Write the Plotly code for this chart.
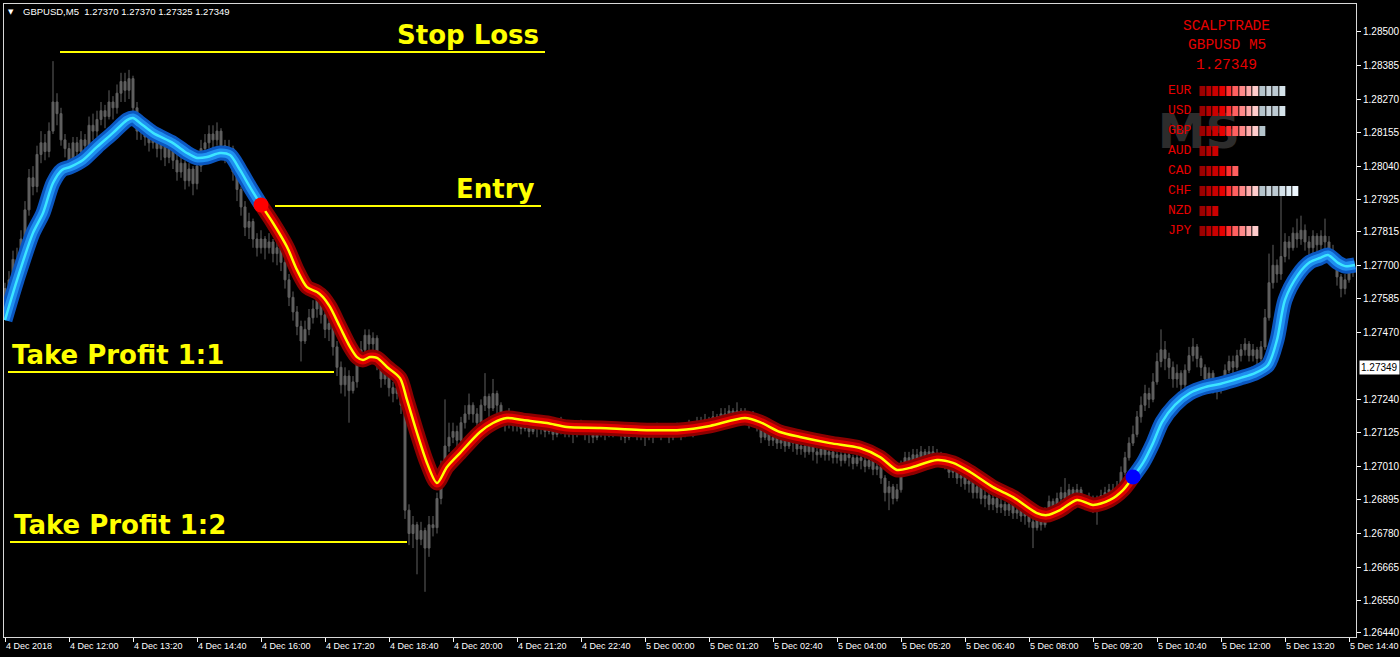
import plotly.graph_objects as go

# ---- candles (GBPUSD M5, 4 Dec 10:40 -> 5 Dec 14:45) ----
first_open = 1.2755
closes = [
    1.2762, 1.2765, 1.2772, 1.2770, 1.2779, 1.2789, 1.2800, 1.2797, 1.2808, 1.2812, 1.2809, 1.2816,
    1.2826, 1.2822, 1.2813, 1.2810, 1.2806, 1.2812, 1.2809, 1.2813, 1.2811, 1.2818, 1.2816, 1.2820,
    1.2823, 1.2821, 1.2826, 1.2824, 1.2829, 1.2833, 1.2830, 1.2834, 1.2824, 1.2816, 1.2818, 1.2814,
    1.2812, 1.2815, 1.2810, 1.2812, 1.2807, 1.2810, 1.2806, 1.2802, 1.2805, 1.2799, 1.2803, 1.2798,
    1.2804, 1.2810, 1.2812, 1.2815, 1.2813, 1.2816, 1.2811, 1.2808, 1.2810, 1.2802, 1.2796, 1.2790,
    1.2783, 1.2785, 1.2779, 1.2776, 1.2779, 1.2776, 1.2778, 1.2774, 1.2776, 1.2771, 1.2765, 1.2759,
    1.2754, 1.2749, 1.2744, 1.2748, 1.2752, 1.2755, 1.2758, 1.2753, 1.2748, 1.2750, 1.2742, 1.2735,
    1.2729, 1.2732, 1.2727, 1.2730, 1.2738, 1.2741, 1.2746, 1.2743, 1.2745, 1.2737, 1.2731, 1.2734,
    1.2728, 1.2726, 1.2728, 1.2722, 1.2686, 1.2678, 1.2681, 1.2676, 1.2679, 1.2673, 1.2681, 1.2680,
    1.2690, 1.2700, 1.2708, 1.2711, 1.2713, 1.2710, 1.2716, 1.2719, 1.2722, 1.2719, 1.2716, 1.2722,
    1.2725, 1.2721, 1.2726, 1.2722, 1.2718, 1.2716, 1.2718, 1.2715, 1.2716, 1.2714, 1.2716, 1.2713,
    1.2715, 1.2714, 1.2716, 1.2713, 1.2715, 1.2712, 1.2714, 1.2716, 1.2713, 1.2714, 1.2712, 1.2714,
    1.2715, 1.2712, 1.2713, 1.2711, 1.2713, 1.2714, 1.2712, 1.2714, 1.2713, 1.2715, 1.2713, 1.2711,
    1.2713, 1.2714, 1.2712, 1.2713, 1.2711, 1.2713, 1.2712, 1.2714, 1.2712, 1.2713, 1.2711, 1.2713,
    1.2714, 1.2712, 1.2714, 1.2715, 1.2713, 1.2716, 1.2715, 1.2717, 1.2716, 1.2718, 1.2717, 1.2719,
    1.2718, 1.2720, 1.2719, 1.2720, 1.2718, 1.2719, 1.2717, 1.2718, 1.2715, 1.2711, 1.2713, 1.2710,
    1.2711, 1.2709, 1.2710, 1.2708, 1.2710, 1.2709, 1.2707, 1.2708, 1.2706, 1.2708, 1.2706, 1.2705,
    1.2707, 1.2705, 1.2706, 1.2704, 1.2705, 1.2703, 1.2705, 1.2704, 1.2702, 1.2704, 1.2703, 1.2701,
    1.2703, 1.2700, 1.2701, 1.2697, 1.2692, 1.2694, 1.2690, 1.2693, 1.2701, 1.2704, 1.2702, 1.2705,
    1.2703, 1.2706, 1.2704, 1.2706, 1.2705, 1.2703, 1.2704, 1.2702, 1.2699, 1.2700, 1.2697, 1.2698,
    1.2695, 1.2696, 1.2692, 1.2694, 1.2690, 1.2691, 1.2688, 1.2690, 1.2687, 1.2688, 1.2686, 1.2688,
    1.2685, 1.2686, 1.2684, 1.2685, 1.2682, 1.2680, 1.2683, 1.2681, 1.2685, 1.2689, 1.2687, 1.2690,
    1.2692, 1.2690, 1.2693, 1.2691, 1.2693, 1.2690, 1.2688, 1.2690, 1.2687, 1.2689, 1.2691, 1.2692,
    1.2693, 1.2692, 1.2694, 1.2699, 1.2704, 1.2709, 1.2712, 1.2718, 1.2722, 1.2726, 1.2724, 1.2730,
    1.2737, 1.2741, 1.2738, 1.2735, 1.2731, 1.2733, 1.2729, 1.2734, 1.2739, 1.2742, 1.2738, 1.2735,
    1.2731, 1.2733, 1.2729, 1.2727, 1.2730, 1.2734, 1.2737, 1.2735, 1.2739, 1.2741, 1.2743, 1.2739,
    1.2741, 1.2738, 1.2742, 1.2752, 1.2764, 1.2770, 1.2767, 1.2773, 1.2778, 1.2776, 1.2781, 1.2779,
    1.2782, 1.2778, 1.2776, 1.2780, 1.2777, 1.2780, 1.2778, 1.2775, 1.2773, 1.2766, 1.2762, 1.2765,
    1.2768, 1.2769,
]
highs = [
    1.2764, 1.2768, 1.2775, 1.2776, 1.2782, 1.2792, 1.2803, 1.2804, 1.2811, 1.2816, 1.2815, 1.2819,
    1.2840, 1.2829, 1.2824, 1.2815, 1.2812, 1.2814, 1.2814, 1.2816, 1.2815, 1.2821, 1.2822, 1.2823,
    1.2826, 1.2825, 1.2830, 1.2828, 1.2832, 1.2836, 1.2836, 1.2837, 1.2835, 1.2826, 1.2821, 1.2820,
    1.2817, 1.2818, 1.2816, 1.2815, 1.2813, 1.2812, 1.2811, 1.2808, 1.2807, 1.2806, 1.2805, 1.2804,
    1.2807, 1.2813, 1.2815, 1.2818, 1.2818, 1.2819, 1.2817, 1.2813, 1.2813, 1.2811, 1.2803, 1.2797,
    1.2792, 1.2788, 1.2786, 1.2781, 1.2782, 1.2780, 1.2781, 1.2779, 1.2779, 1.2777, 1.2772, 1.2767,
    1.2761, 1.2756, 1.2751, 1.2751, 1.2755, 1.2758, 1.2761, 1.2760, 1.2755, 1.2753, 1.2751, 1.2744,
    1.2737, 1.2735, 1.2734, 1.2732, 1.2740, 1.2744, 1.2748, 1.2748, 1.2747, 1.2746, 1.2738, 1.2736,
    1.2735, 1.2730, 1.2731, 1.2729, 1.2723, 1.2688, 1.2684, 1.2682, 1.2682, 1.2680, 1.2684, 1.2684,
    1.2692, 1.2703, 1.2724, 1.2716, 1.2716, 1.2715, 1.2718, 1.2722, 1.2726, 1.2723, 1.2721, 1.2724,
    1.2733, 1.2726, 1.2731, 1.2727, 1.2723, 1.2720, 1.2721, 1.2719, 1.2718, 1.2717, 1.2718, 1.2717,
    1.2717, 1.2716, 1.2718, 1.2717, 1.2716, 1.2716, 1.2716, 1.2718, 1.2717, 1.2716, 1.2715, 1.2716,
    1.2717, 1.2716, 1.2715, 1.2714, 1.2715, 1.2716, 1.2715, 1.2716, 1.2715, 1.2716, 1.2716, 1.2714,
    1.2715, 1.2716, 1.2715, 1.2715, 1.2714, 1.2715, 1.2714, 1.2716, 1.2715, 1.2715, 1.2714, 1.2715,
    1.2716, 1.2715, 1.2716, 1.2717, 1.2716, 1.2718, 1.2718, 1.2719, 1.2718, 1.2720, 1.2719, 1.2721,
    1.2721, 1.2722, 1.2721, 1.2723, 1.2721, 1.2721, 1.2720, 1.2720, 1.2719, 1.2716, 1.2715, 1.2714,
    1.2713, 1.2712, 1.2712, 1.2711, 1.2712, 1.2711, 1.2710, 1.2710, 1.2709, 1.2710, 1.2709, 1.2708,
    1.2709, 1.2708, 1.2708, 1.2707, 1.2707, 1.2706, 1.2707, 1.2706, 1.2705, 1.2706, 1.2705, 1.2705,
    1.2705, 1.2704, 1.2703, 1.2702, 1.2698, 1.2696, 1.2695, 1.2695, 1.2703, 1.2706, 1.2706, 1.2707,
    1.2707, 1.2708, 1.2707, 1.2708, 1.2708, 1.2707, 1.2706, 1.2705, 1.2703, 1.2702, 1.2701, 1.2700,
    1.2699, 1.2698, 1.2697, 1.2696, 1.2695, 1.2693, 1.2692, 1.2692, 1.2691, 1.2690, 1.2689, 1.2690,
    1.2689, 1.2688, 1.2687, 1.2687, 1.2686, 1.2684, 1.2685, 1.2685, 1.2687, 1.2691, 1.2690, 1.2692,
    1.2694, 1.2697, 1.2695, 1.2694, 1.2695, 1.2694, 1.2691, 1.2692, 1.2691, 1.2691, 1.2693, 1.2694,
    1.2695, 1.2695, 1.2696, 1.2701, 1.2706, 1.2711, 1.2715, 1.2720, 1.2725, 1.2729, 1.2728, 1.2733,
    1.2740, 1.2748, 1.2744, 1.2740, 1.2737, 1.2736, 1.2734, 1.2736, 1.2742, 1.2745, 1.2743, 1.2739,
    1.2736, 1.2735, 1.2734, 1.2731, 1.2732, 1.2736, 1.2739, 1.2739, 1.2741, 1.2743, 1.2745, 1.2744,
    1.2743, 1.2742, 1.2744, 1.2755, 1.2774, 1.2777, 1.2772, 1.2797, 1.2781, 1.2780, 1.2783, 1.2786,
    1.2787, 1.2784, 1.2780, 1.2782, 1.2781, 1.2782, 1.2786, 1.2780, 1.2777, 1.2773, 1.2767, 1.2767,
    1.2770, 1.2771,
]
lows = [
    1.2752, 1.2760, 1.2763, 1.2766, 1.2769, 1.2777, 1.2787, 1.2794, 1.2795, 1.2805, 1.2806, 1.2807,
    1.2815, 1.2818, 1.2811, 1.2807, 1.2804, 1.2805, 1.2806, 1.2808, 1.2808, 1.2810, 1.2813, 1.2814,
    1.2818, 1.2817, 1.2820, 1.2820, 1.2822, 1.2826, 1.2826, 1.2827, 1.2822, 1.2813, 1.2813, 1.2811,
    1.2809, 1.2810, 1.2807, 1.2806, 1.2804, 1.2805, 1.2803, 1.2799, 1.2800, 1.2796, 1.2797, 1.2794,
    1.2796, 1.2802, 1.2808, 1.2810, 1.2810, 1.2811, 1.2808, 1.2805, 1.2805, 1.2799, 1.2792, 1.2787,
    1.2780, 1.2779, 1.2776, 1.2773, 1.2774, 1.2772, 1.2774, 1.2771, 1.2770, 1.2768, 1.2762, 1.2756,
    1.2751, 1.2746, 1.2737, 1.2743, 1.2746, 1.2750, 1.2752, 1.2750, 1.2745, 1.2744, 1.2739, 1.2732,
    1.2726, 1.2725, 1.2716, 1.2726, 1.2728, 1.2736, 1.2739, 1.2740, 1.2740, 1.2734, 1.2728, 1.2729,
    1.2725, 1.2723, 1.2724, 1.2719, 1.2683, 1.2674, 1.2673, 1.2664, 1.2674, 1.2658, 1.2670, 1.2677,
    1.2678, 1.2688, 1.2698, 1.2706, 1.2709, 1.2707, 1.2709, 1.2714, 1.2717, 1.2716, 1.2714, 1.2715,
    1.2720, 1.2718, 1.2720, 1.2719, 1.2715, 1.2713, 1.2714, 1.2713, 1.2713, 1.2712, 1.2713, 1.2711,
    1.2712, 1.2711, 1.2712, 1.2711, 1.2712, 1.2710, 1.2711, 1.2712, 1.2711, 1.2711, 1.2709, 1.2711,
    1.2712, 1.2710, 1.2709, 1.2709, 1.2710, 1.2711, 1.2710, 1.2711, 1.2711, 1.2712, 1.2710, 1.2709,
    1.2710, 1.2711, 1.2710, 1.2710, 1.2708, 1.2710, 1.2709, 1.2711, 1.2710, 1.2711, 1.2709, 1.2710,
    1.2712, 1.2710, 1.2711, 1.2712, 1.2711, 1.2712, 1.2713, 1.2714, 1.2713, 1.2715, 1.2714, 1.2716,
    1.2715, 1.2717, 1.2716, 1.2717, 1.2716, 1.2716, 1.2714, 1.2715, 1.2713, 1.2709, 1.2710, 1.2708,
    1.2708, 1.2707, 1.2707, 1.2706, 1.2707, 1.2706, 1.2705, 1.2705, 1.2704, 1.2705, 1.2703, 1.2702,
    1.2704, 1.2703, 1.2703, 1.2702, 1.2702, 1.2701, 1.2702, 1.2701, 1.2700, 1.2701, 1.2700, 1.2699,
    1.2700, 1.2698, 1.2698, 1.2695, 1.2689, 1.2686, 1.2688, 1.2689, 1.2692, 1.2699, 1.2700, 1.2701,
    1.2701, 1.2702, 1.2702, 1.2703, 1.2702, 1.2701, 1.2701, 1.2700, 1.2697, 1.2697, 1.2695, 1.2694,
    1.2693, 1.2692, 1.2690, 1.2690, 1.2688, 1.2687, 1.2686, 1.2686, 1.2685, 1.2685, 1.2684, 1.2684,
    1.2683, 1.2683, 1.2682, 1.2681, 1.2680, 1.2673, 1.2679, 1.2679, 1.2680, 1.2684, 1.2685, 1.2686,
    1.2688, 1.2688, 1.2689, 1.2688, 1.2689, 1.2688, 1.2686, 1.2686, 1.2685, 1.2681, 1.2687, 1.2689,
    1.2690, 1.2690, 1.2691, 1.2693, 1.2698, 1.2703, 1.2708, 1.2711, 1.2716, 1.2720, 1.2721, 1.2723,
    1.2729, 1.2735, 1.2734, 1.2731, 1.2728, 1.2728, 1.2726, 1.2727, 1.2733, 1.2737, 1.2735, 1.2732,
    1.2727, 1.2728, 1.2726, 1.2724, 1.2726, 1.2729, 1.2733, 1.2733, 1.2734, 1.2737, 1.2739, 1.2737,
    1.2737, 1.2736, 1.2737, 1.2741, 1.2751, 1.2762, 1.2764, 1.2765, 1.2771, 1.2772, 1.2775, 1.2776,
    1.2777, 1.2775, 1.2772, 1.2774, 1.2773, 1.2775, 1.2774, 1.2773, 1.2770, 1.2763, 1.2759, 1.2760,
    1.2764, 1.2766,
]
# M5 forex bars are gapless: each bar opens at the previous close
opens = [first_open] + closes[:-1]
bars = list(range(len(closes)))

tick_bars = list(range(0, 337, 16))
tick_text = ["4 Dec 2018", "4 Dec 12:00", "4 Dec 13:20", "4 Dec 14:40", "4 Dec 16:00",
             "4 Dec 17:20", "4 Dec 18:40", "4 Dec 20:00", "4 Dec 21:20", "4 Dec 22:40",
             "5 Dec 00:00", "5 Dec 01:20", "5 Dec 02:40", "5 Dec 04:00", "5 Dec 05:20",
             "5 Dec 06:40", "5 Dec 08:00", "5 Dec 09:20", "5 Dec 10:40", "5 Dec 12:00",
             "5 Dec 13:20", "5 Dec 14:40"]
price_ticks = [1.28500, 1.28385, 1.28270, 1.28155, 1.28040, 1.27925, 1.27815, 1.27700, 1.27585,
               1.27470, 1.27240, 1.27125, 1.27010, 1.26895, 1.26780, 1.26665, 1.26550, 1.26440]
last_price = 1.27349

# ---- trend line (indicator), read at points along the curve ----
up1_bar = [0, 3, 7, 9.5, 12, 14.25, 16.25, 19.5, 23, 27, 30.5, 32, 33.75, 37, 42, 45.5, 48,
           50.5, 53.75, 56.25, 58.75, 61.25, 64]
up1_val = [1.27512, 1.27649, 1.27811, 1.27879, 1.27982, 1.28027, 1.28037, 1.28061, 1.28106,
           1.28154, 1.28198, 1.28205, 1.28188, 1.28154, 1.28119, 1.28085, 1.28068, 1.28071,
           1.28085, 1.28078, 1.28027, 1.27968, 1.27907]
down_bar = [64, 67, 70.5, 73, 75.5, 78, 79.5, 81.25, 83.75, 86.25, 88, 89.5, 91.25, 93, 95.5,
            98.75, 100.5, 103, 105.5, 108, 110.5, 113.75, 118.75, 122, 125.5, 129.5, 135.5,
            140.5, 148.75, 158.75, 168.75, 176.25, 185, 188.75, 193.75, 198.75, 206.25, 213.75,
            218.75, 223, 226.25, 233, 237, 241.25, 247, 252, 258, 260.5, 263.75, 268, 272,
            276.25, 279.5, 282]
down_val = [1.27907, 1.27845, 1.27763, 1.27684, 1.27625, 1.27608, 1.27591, 1.27557, 1.27488,
            1.27420, 1.27385, 1.27375, 1.27385, 1.27382, 1.27351, 1.27313, 1.27238, 1.27125,
            1.27022, 1.26953, 1.27008, 1.27056, 1.27128, 1.27159, 1.27176, 1.27169, 1.27159,
            1.27145, 1.27142, 1.27135, 1.27135, 1.27149, 1.27176, 1.27162, 1.27128, 1.27111,
            1.27090, 1.27073, 1.27042, 1.26998, 1.27005, 1.27032, 1.27022, 1.26991, 1.26939,
            1.26905, 1.26850, 1.26843, 1.26860, 1.26895, 1.26878, 1.26895, 1.26929, 1.26974]
up2_bar = [282, 284.5, 287, 289.25, 292.5, 296.25, 300, 303.75, 308.75, 312.5, 315.75, 318,
           320, 323.25, 326.25, 328.75, 330.75, 333.25, 335, 337.5]
up2_val = [1.26974, 1.27022, 1.27090, 1.27162, 1.27221, 1.27262, 1.27282, 1.27293, 1.27313,
           1.27330, 1.27358, 1.27444, 1.27581, 1.27667, 1.27711, 1.27725, 1.27735, 1.27708,
           1.27697, 1.27701]

# ---- drawn levels ----
level_names = ["Stop Loss", "Entry", "Take Profit 1:1", "Take Profit 1:2"]
level_price = [1.28431, 1.27903, 1.27334, 1.26751]
level_start = [13.75, 67.5, 0.75, 1.25]
level_end = [135, 134, 82.25, 100.5]

# ---- currency strength panel ----
currencies = ["EUR", "USD", "GBP", "AUD", "CAD", "CHF", "NZD", "JPY"]
strength = [13, 13, 10, 3, 6, 15, 3, 9]
block_colors = ["#9c0000", "#b40000", "#cc0000", "#e60000", "#ff3030", "#ff6060", "#ff8a8a",
                "#ffabab", "#ffcccc", "#b4c4cc", "#c8d4dc", "#bccad2", "#d4e2ea", "#e0eef6",
                "#eef8ff", "#ffffff"]

GRAY = "#606060"
YELLOW = "#ffff00"
PANEL_RED = "#e60000"

fig = go.Figure()

fig.add_trace(go.Candlestick(
    x=bars, open=opens, high=highs, low=lows, close=closes,
    increasing=dict(line=dict(color=GRAY, width=1), fillcolor=GRAY),
    decreasing=dict(line=dict(color=GRAY, width=1), fillcolor=GRAY),
    hoverinfo="skip", showlegend=False))

# faint watermark behind the panel
fig.add_trace(go.Scatter(x=[298.5], y=[1.28143], mode="text", text=["<b>MS</b>"],
                         textfont=dict(family="DejaVu Sans", size=48, color="rgba(75,75,75,0.6)"),
                         hoverinfo="skip", showlegend=False))

for p, a, b in zip(level_price, level_start, level_end):
    fig.add_trace(go.Scatter(x=[a, b], y=[p, p], mode="lines", line=dict(color=YELLOW, width=2),
                             hoverinfo="skip", showlegend=False))


def glow(xs, ys, colors):
    for w, c in zip([15, 9, 2.5], colors):
        fig.add_trace(go.Scatter(x=xs, y=ys, mode="lines",
                                 line=dict(color=c, width=w, shape="spline", smoothing=0.8),
                                 hoverinfo="skip", showlegend=False))


blue = ["#0b57c0", "#1f8ff0", "#3ce6ff"]
red = ["#8c0000", "#e00000", "#ffff00"]
glow(up1_bar, up1_val, blue)
glow(up2_bar, up2_val, blue)
glow(down_bar, down_val, red)

fig.add_trace(go.Scatter(x=[down_bar[0]], y=[down_val[0]], mode="markers",
                         marker=dict(color="#ff0000", size=15), hoverinfo="skip", showlegend=False))
fig.add_trace(go.Scatter(x=[down_bar[-1]], y=[down_val[-1]], mode="markers",
                         marker=dict(color="#0000ff", size=15), hoverinfo="skip", showlegend=False))

# strength blocks
z = [[k if k < s else None for k in range(len(block_colors))] for s in strength]
n = len(block_colors) - 1
fig.add_trace(go.Heatmap(
    z=z, x=list(range(len(block_colors))), y=list(range(len(currencies))),
    xaxis="x2", yaxis="y2", zmin=0, zmax=n,
    colorscale=[[k / n, c] for k, c in enumerate(block_colors)],
    showscale=False, xgap=1, ygap=10, hoverinfo="skip"))

annotations = []
label_font = dict(family="DejaVu Sans", size=26, color=YELLOW)
for name, p, a, b in zip(level_names, level_price, level_start, level_end):
    if name.startswith("Take"):
        annotations.append(dict(x=a, y=p, xref="x", yref="y", text="<b>%s</b>" % name,
                                xanchor="left", yanchor="middle", xshift=2, yshift=17,
                                showarrow=False, font=label_font))
    else:
        annotations.append(dict(x=b, y=p, xref="x", yref="y", text="<b>%s</b>" % name,
                                xanchor="right", yanchor="middle", xshift=-4, yshift=17,
                                showarrow=False, font=label_font))

mono = dict(family="Liberation Mono", size=14.5, color=PANEL_RED)
for txt, yy in zip(["SCALPTRADE", "GBPUSD M5", "%.5f" % last_price], [0.9652, 0.9352, 0.9036]):
    annotations.append(dict(x=0.9045, y=yy, xref="paper", yref="paper", text=txt,
                            xanchor="center", yanchor="middle", showarrow=False, font=mono))
for r, cur in enumerate(currencies):
    annotations.append(dict(x=0.8595, y=r, xref="paper", yref="y2", text=cur, xanchor="left",
                            yanchor="middle", showarrow=False,
                            font=dict(family="Liberation Mono", size=13, color=PANEL_RED)))

annotations.append(dict(x=0.0052, y=0.9876, xref="paper", yref="paper", text="▼",
                        xanchor="center", yanchor="middle", showarrow=False,
                        font=dict(family="DejaVu Sans", size=7, color="white")))
annotations.append(dict(x=0.0124, y=0.9874, xref="paper", yref="paper",
                        text="GBPUSD,M5\u00a0\u00a0" + " ".join("%.5f" % v for v in
                                                            [1.27370, 1.27370, 1.27325, last_price]),
                        xanchor="left", yanchor="middle", showarrow=False,
                        font=dict(family="Liberation Sans", size=9.5, color="white")))
annotations.append(dict(x=1, y=last_price, xref="paper", yref="y", text="%.5f" % last_price,
                        xanchor="left", yanchor="middle", xshift=3, showarrow=False,
                        bgcolor="white", borderpad=1,
                        font=dict(family="Liberation Sans", size=10, color="black")))

fig.update_layout(
    width=1400, height=657,
    margin=dict(l=4, r=44, t=4, b=20, autoexpand=False),
    paper_bgcolor="black", plot_bgcolor="rgba(0,0,0,0)",
    showlegend=False,
    xaxis=dict(range=[-0.25, 337.75], tickvals=tick_bars, ticktext=tick_text,
               ticks="outside", ticklen=4, tickcolor="white", ticklabelposition="outside right",
               ticklabeloverflow="allow", automargin=False,
               tickfont=dict(family="Liberation Sans", size=9, color="white"),
               showgrid=False, zeroline=False, showline=True, linecolor="#d8d8d8", mirror=True,
               rangeslider=dict(visible=False)),
    yaxis=dict(range=[1.26425, 1.28596], side="right", tickvals=price_ticks,
               ticktext=["%.5f" % v for v in price_ticks], automargin=False,
               ticks="outside", ticklen=4, tickcolor="white",
               tickfont=dict(family="Liberation Sans", size=10, color="white"),
               showgrid=False, zeroline=False, showline=True, linecolor="#d8d8d8", mirror=True),
    xaxis2=dict(domain=[0.8841, 0.9630], range=[-0.5, 15.5], visible=False, anchor="y2"),
    yaxis2=dict(domain=[0.6256, 0.8784], range=[7.5, -0.5], visible=False, anchor="x2"),
    annotations=annotations,
)

fig.write_html("out.html", config={"displayModeBar": False},
               post_script="document.body.style.margin='0';document.body.style.overflow='hidden';")
